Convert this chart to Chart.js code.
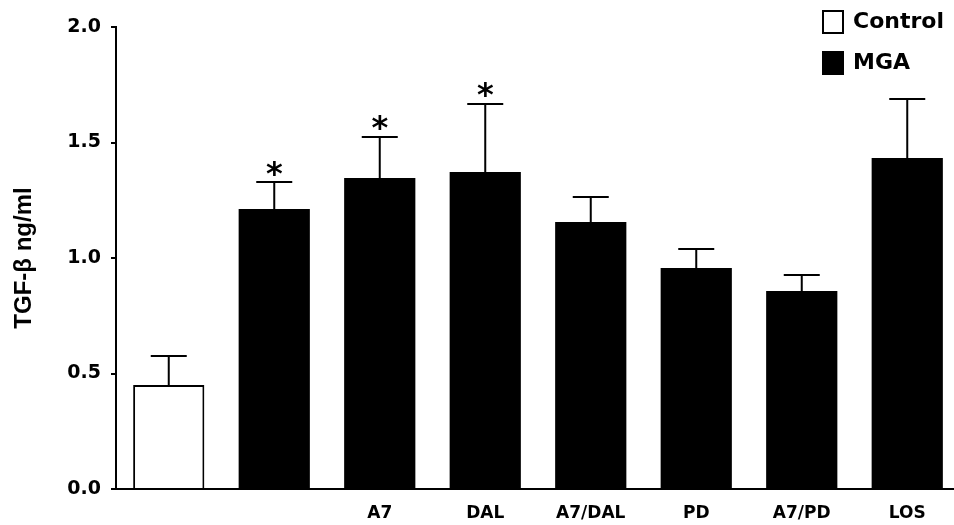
<!DOCTYPE html>
<html><head><meta charset="utf-8">
<script src="https://cdn.jsdelivr.net/npm/chart.js@4"></script>
<style>
html,body{margin:0;padding:0;background:#fff;overflow:hidden;}
#wrap{position:relative;width:961px;height:525px;}
</style></head><body>
<div id="wrap"><canvas id="c"></canvas></div>
<script>
const categories = ["", "", "A7", "DAL", "A7/DAL", "PD", "A7/PD", "LOS"];
const controlValues = [0.450, null, null, null, null, null, null, null];
const controlErrors = [0.126, null, null, null, null, null, null, null];
const mgaValues = [null, 1.212, 1.346, 1.372, 1.156, 0.957, 0.857, 1.433];
const mgaErrors = [null, 0.117, 0.178, 0.295, 0.108, 0.082, 0.069, 0.255];
const significant = [false, true, true, true, false, false, false, false];
const yTicks = [0, 0.5, 1.0, 1.5, 2.0];
const yTitle = "TGF-\u03B2 ng/ml";
const legendLabels = ["Control", "MGA"];

const errorBars = {
  id: 'errorBars',
  afterDatasetsDraw(chart) {
    const ctx = chart.ctx, ys = chart.scales.y;
    const errs = [controlErrors, mgaErrors];
    ctx.save();
    ctx.strokeStyle = '#000'; ctx.lineWidth = 2; ctx.lineCap = 'butt';
    chart.data.datasets.forEach((ds, i) => {
      const meta = chart.getDatasetMeta(i);
      meta.data.forEach((el, j) => {
        const v = ds.data[j];
        if (v === null || errs[i][j] === null) return;
        const yt = ys.getPixelForValue(v + errs[i][j]);
        ctx.beginPath();
        ctx.moveTo(el.x, el.y); ctx.lineTo(el.x, yt);
        ctx.moveTo(el.x - 18, yt); ctx.lineTo(el.x + 18, yt);
        ctx.stroke();
        if (significant[j]) {
          ctx.font = 'bold 32px "DejaVu Sans"';
          ctx.fillStyle = '#000';
          ctx.textAlign = 'center'; ctx.textBaseline = 'alphabetic';
          const m = ctx.measureText('*');
          const inkMid = (m.actualBoundingBoxAscent - m.actualBoundingBoxDescent) / 2;
          ctx.fillText('*', el.x, yt - 14 + inkMid);
        }
      });
    });
    ctx.restore();
  }
};

const legendPlugin = {
  id: 'customLegend',
  afterDraw(chart) {
    const ctx = chart.ctx;
    ctx.save();
    const fills = ['#fff', '#000'];
    const tops = [11, 52];
    legendLabels.forEach((lab, i) => {
      ctx.fillStyle = fills[i];
      ctx.fillRect(823, tops[i], 20, 22);
      ctx.strokeStyle = '#000'; ctx.lineWidth = 2;
      ctx.strokeRect(823, tops[i], 20, 22);
      ctx.fillStyle = '#000';
      ctx.font = 'bold 22px "DejaVu Sans"';
      ctx.textAlign = 'left'; ctx.textBaseline = 'middle';
      ctx.fillText(lab, 853, tops[i] + 11);
    });
    ctx.restore();
  }
};

new Chart(document.getElementById('c'), {
  type: 'bar',
  data: {
    labels: categories,
    datasets: [
      { label: legendLabels[0], data: controlValues, backgroundColor: '#fff', borderColor: '#000', borderWidth: 2, grouped: false },
      { label: legendLabels[1], data: mgaValues, backgroundColor: '#000', borderColor: '#000', borderWidth: 0, grouped: false }
    ]
  },
  options: {
    responsive: true, maintainAspectRatio: false, animation: false,
    categoryPercentage: 1.0, barPercentage: 0.675,
    layout: { padding: { left: 0, right: 1, top: 27, bottom: 0 } },
    plugins: { legend: { display: false }, tooltip: { enabled: false } },
    scales: {
      x: {
        grid: { display: false, drawTicks: false },
        border: { display: true, color: '#000', width: 2 },
        ticks: { color: '#000', font: { family: 'DejaVu Sans', weight: 'bold', size: 17 }, padding: 14, maxRotation: 0, autoSkip: false },
        afterFit(s) { s.height = 36; }
      },
      y: {
        min: 0, max: 2,
        afterBuildTicks(s) { s.ticks = yTicks.map(v => ({ value: v })); },
        grid: { drawOnChartArea: false, drawTicks: true, tickLength: 5, color: '#000', lineWidth: 2 },
        border: { display: true, color: '#000', width: 2 },
        ticks: { color: '#000', font: { family: 'DejaVu Sans', weight: 'bold', size: 19 }, padding: 10, callback: v => Number(v).toFixed(1) },
        title: { display: true, text: yTitle, color: '#000', font: { family: 'Liberation Sans', weight: 'bold', size: 24 }, padding: { top: 10, bottom: 0 } },
        afterFit(s) { s.width = 116; }
      }
    }
  },
  plugins: [errorBars, legendPlugin]
});
</script>
</body></html>
